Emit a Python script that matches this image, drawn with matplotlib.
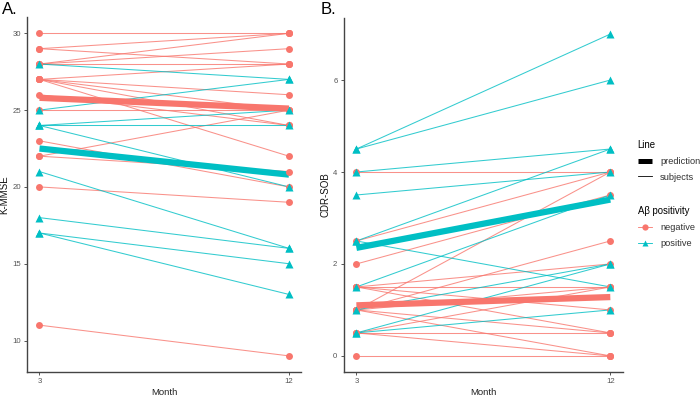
import matplotlib.pyplot as plt
from matplotlib.lines import Line2D

plt.rcParams['font.family'] = ['Liberation Sans', 'DejaVu Sans']

RED = '#F8766D'
TEAL = '#00BFC4'

months = [3, 12]

# K-MMSE subjects, (month 3, month 12)
kmmse_neg_3 = [30, 29, 29, 28, 28, 28, 27, 27, 27, 27, 27, 26, 25, 23, 22, 22, 20, 11]
kmmse_neg_12 = [30, 30, 28, 30, 29, 28, 28, 26, 25, 24, 22, 24, 25, 20, 25, 21, 19, 9]
kmmse_pos_3 = [28, 25, 24, 24, 24, 21, 18, 17, 17]
kmmse_pos_12 = [27, 27, 24, 25, 20, 16, 16, 15, 13]
kmmse_pred_neg = [25.8, 25.1]
kmmse_pred_pos = [22.5, 20.8]

# CDR-SOB subjects
cdr_neg_3 = [4, 2.5, 2, 1.5, 1.5, 1.5, 1.5, 1, 1, 1, 1, 1, 0.5, 0.5, 0.5, 0]
cdr_neg_12 = [4, 4, 3.5, 2, 1.5, 0.5, 1, 4, 2.5, 0, 0.5, 1.5, 1.5, 0.5, 0, 0]
cdr_pos_3 = [4.5, 4.5, 4, 3.5, 2.5, 2.5, 1.5, 1, 0.5, 0.5]
cdr_pos_12 = [7, 6, 4.5, 4, 4.5, 1.5, 3.5, 2, 1, 2]
cdr_pred_neg = [1.1, 1.28]
cdr_pred_pos = [2.35, 3.4]


def draw_panel(ax, neg3, neg12, pos3, pos12, pred_neg, pred_pos, ylabel):
    for a, b in zip(neg3, neg12):
        ax.plot(months, [a, b], color=RED, lw=0.75, alpha=0.8, zorder=2)
    for a, b in zip(pos3, pos12):
        ax.plot(months, [a, b], color=TEAL, lw=0.75, alpha=0.8, zorder=2)
    ax.plot(months, pred_neg, color=RED, lw=4.5, solid_capstyle='butt', zorder=3)
    ax.plot(months, pred_pos, color=TEAL, lw=4.5, solid_capstyle='butt', zorder=3)
    for a, b in zip(neg3, neg12):
        ax.plot(months, [a, b], 'o', color=RED, ms=5, mec='none', zorder=4)
    for a, b in zip(pos3, pos12):
        ax.plot(months, [a, b], '^', color=TEAL, ms=5.5, mec='none', zorder=4)
    ax.set_xticks(months)
    ax.set_xlim(2.55, 12.45)
    ax.set_xlabel('Month', fontsize=6.8, color='#222222', labelpad=2)
    ax.set_ylabel(ylabel, fontsize=7, color='#111111', labelpad=2)
    for s in ['top', 'right']:
        ax.spines[s].set_visible(False)
    for s in ['left', 'bottom']:
        ax.spines[s].set_color('#444444')
        ax.spines[s].set_linewidth(1.0)
    ax.tick_params(labelsize=5.6, colors='#555555', length=2.5, width=0.7, pad=2)


fig = plt.figure(figsize=(7, 3.96), dpi=100)
ax1 = fig.add_axes([0.0386, 0.0606, 0.392, 0.896])
ax2 = fig.add_axes([0.491, 0.0606, 0.399, 0.894])

draw_panel(ax1, kmmse_neg_3, kmmse_neg_12, kmmse_pos_3, kmmse_pos_12,
           kmmse_pred_neg, kmmse_pred_pos, 'K-MMSE')
ax1.set_ylim(7.95, 31.05)
ax1.set_yticks([10, 15, 20, 25, 30])

draw_panel(ax2, cdr_neg_3, cdr_neg_12, cdr_pos_3, cdr_pos_12,
           cdr_pred_neg, cdr_pred_pos, 'CDR-SOB')
ax2.set_ylim(-0.35, 7.35)
ax2.set_yticks([0, 2, 4, 6])

fig.text(0.003, 0.995, 'A.', fontsize=12, va='top')
fig.text(0.458, 0.995, 'B.', fontsize=12, va='top')

common = dict(loc='upper left', frameon=False, fontsize=6.7, title_fontsize=6.9,
              handlelength=1.5, handletextpad=0.9, labelspacing=0.75,
              borderpad=0, borderaxespad=0, alignment='left', labelcolor='#333333')
line_handles = [Line2D([], [], color='black', lw=3.6, solid_capstyle='butt'),
                Line2D([], [], color='black', lw=0.6)]
leg1 = fig.legend(line_handles, ['prediction', 'subjects'], title='Line',
                  bbox_to_anchor=(0.911, 0.647), **common)
pos_handles = [Line2D([], [], color=RED, lw=0.6, marker='o', ms=4.5, mec='none'),
               Line2D([], [], color=TEAL, lw=0.6, marker='^', ms=5, mec='none')]
leg2 = fig.legend(pos_handles, ['negative', 'positive'], title='A\u03b2 positivity',
                  bbox_to_anchor=(0.911, 0.48), **common)

fig.savefig('out.png', dpi=100)
